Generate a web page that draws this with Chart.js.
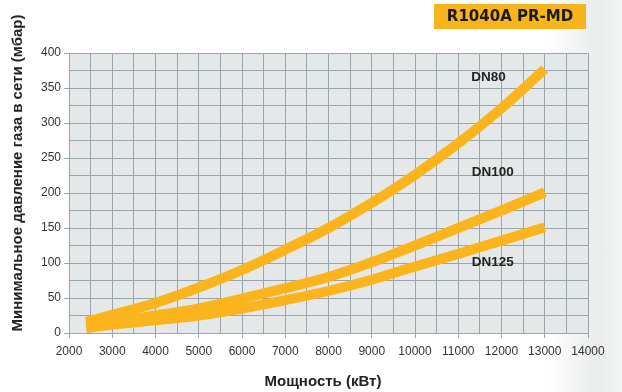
<!DOCTYPE html>
<html><head><meta charset="utf-8">
<script src="https://cdn.jsdelivr.net/npm/chart.js@4"></script>
<style>
html,body{margin:0;padding:0;}
body{width:622px;height:392px;overflow:hidden;background:linear-gradient(90deg,#ffffff 0%,#ffffff 88%,#e9ebec 96%,#f3f4f4 100%);}
#wrap{position:relative;width:622px;height:392px;}
</style></head><body>
<div id="wrap"><canvas id="c" width="622" height="392"></canvas></div>
<script>
const title = "R1040A PR-MD";
const xTitle = "Мощность (кВт)";
const yTitle = "Минимальное давление газа в сети (мбар)";
const power = [2400, 3000, 4000, 5000, 6000, 7000, 8000, 9000, 10000, 11000, 12000, 13000];
const dn80 =  [16, 26, 43, 65, 90, 119, 150, 186, 226, 271, 321, 377];
const dn100 = [10, 16, 25, 35, 49, 64, 80, 101, 125, 150, 175, 201];
const dn125 = [7, 12, 18, 25, 35, 47, 60, 76, 95, 113, 132, 151];
const seriesNames = ["DN80", "DN100", "DN125"];
const labelPos = [[11700, 366], [11800, 229], [11800, 101]];

const lineColor = "#fbb41c";
const gridColor = "#9aa6ad";

function pts(vals){ return power.map((p,i)=>({x:p,y:vals[i]})); }
function ds(name, vals){
  return {label:name, data:pts(vals), borderColor:lineColor, backgroundColor:lineColor,
    borderWidth:10, pointRadius:0, cubicInterpolationMode:'monotone', borderCapStyle:'butt', fill:false};
}

const deco = {
  id:'deco',
  beforeDraw(chart){
    const {ctx, chartArea:a} = chart;
    ctx.save();
    ctx.fillStyle = '#e5e8e9';
    ctx.fillRect(a.left, a.top, a.right-a.left, a.bottom-a.top);
    ctx.restore();
  },
  afterDraw(chart){
    const {ctx, scales:{x,y}} = chart;
    ctx.save();
    // header box
    ctx.fillStyle = '#f8b41c';
    ctx.fillRect(434, 4, 152, 25);
    ctx.fillStyle = '#1a1a1a';
    ctx.font = 'bold 15px "DejaVu Sans", Arial, sans-serif';
    ctx.textAlign = 'center'; ctx.textBaseline = 'middle';
    ctx.fillText(title, 510, 17);
    // series labels
    ctx.font = 'bold 13.5px "Liberation Sans", Arial, sans-serif';
    ctx.fillStyle = '#222';
    seriesNames.forEach((n,i)=>{
      ctx.fillText(n, x.getPixelForValue(labelPos[i][0]), y.getPixelForValue(labelPos[i][1]));
    });
    // axis titles
    ctx.font = 'bold 15px "Liberation Sans", Arial, sans-serif';
    ctx.fillStyle = '#222';
    ctx.fillText(xTitle, 323, 382);
    ctx.translate(18, 173);
    ctx.rotate(-Math.PI/2);
    ctx.fillText(yTitle, 0, 0);
    ctx.restore();
  }
};

new Chart(document.getElementById('c'), {
  type:'line',
  data:{datasets:[ds(seriesNames[0],dn80), ds(seriesNames[1],dn100), ds(seriesNames[2],dn125)]},
  options:{
    responsive:false, animation:false,
    layout:{padding:{left:0, right:34, top:53, bottom:0}},
    plugins:{legend:{display:false}, tooltip:{enabled:false}},
    scales:{
      x:{type:'linear', min:2000, max:14000,
        afterFit(s){ s.height = 59; },
        border:{display:true, color:gridColor},
        grid:{color:gridColor, lineWidth:1, drawTicks:true, tickLength:5,
          tickColor:(c)=> (c.tick && c.tick.value % 1000 === 0) ? gridColor : 'rgba(0,0,0,0)'},
        ticks:{stepSize:500, autoSkip:false, maxRotation:0, padding:6, color:'#333',
          font:{family:'"Liberation Sans", Arial, sans-serif', size:12},
          callback:(v)=> v % 1000 === 0 ? String(v) : ''}
      },
      y:{type:'linear', min:0, max:400,
        afterFit(s){ s.width = 69; },
        border:{display:true, color:gridColor},
        grid:{color:gridColor, lineWidth:1, drawTicks:true, tickLength:5,
          tickColor:(c)=> (c.tick && c.tick.value % 50 === 0) ? gridColor : 'rgba(0,0,0,0)'},
        ticks:{stepSize:25, autoSkip:false, padding:3, color:'#333',
          font:{family:'"Liberation Sans", Arial, sans-serif', size:12},
          callback:(v)=> v % 50 === 0 ? String(v) : ''}
      }
    }
  },
  plugins:[deco]
});
</script>
</body></html>
